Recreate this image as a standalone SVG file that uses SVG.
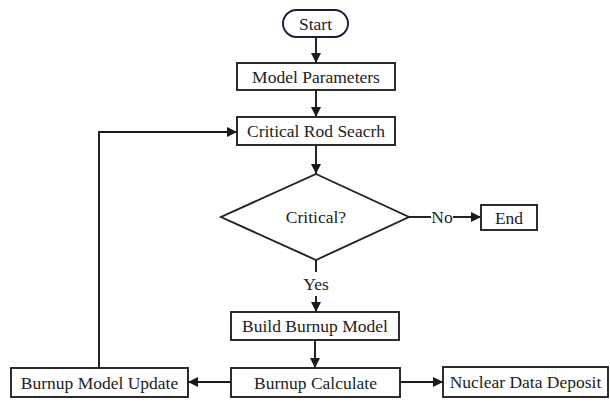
<svg xmlns="http://www.w3.org/2000/svg" width="610" height="402" viewBox="0 0 610 402">
<defs>
<marker id="ah" viewBox="0 0 10 10" refX="10" refY="5" markerWidth="10" markerHeight="10" markerUnits="userSpaceOnUse" orient="auto">
<path d="M0,0 L10,5 L0,10 Z" fill="#1a1a1a"/>
</marker>
<style>
.box{fill:#fff;stroke:#222;stroke-width:1.9}
.t{font-size:17.5px;fill:#222;text-anchor:middle;dominant-baseline:central}
.c{fill:none;stroke:#1a1a1a;stroke-width:1.9}
</style>
</defs>
<rect width="610" height="402" fill="#fff"/>
<g font-family="'Liberation Serif', 'DejaVu Serif', serif">
<g id="connectors">
<line class="c" x1="316" y1="37" x2="316" y2="63" marker-end="url(#ah)"/>
<line class="c" x1="316" y1="90" x2="316" y2="117" marker-end="url(#ah)"/>
<line class="c" x1="316" y1="145" x2="316" y2="174" marker-end="url(#ah)"/>
<line class="c" x1="409" y1="217" x2="431" y2="217"/>
<text class="t" x="442" y="217">No</text>
<line class="c" x1="453" y1="217" x2="481" y2="217" marker-end="url(#ah)"/>
<line class="c" x1="316" y1="260" x2="316" y2="272"/>
<text class="t" x="316" y="284">Yes</text>
<line class="c" x1="316" y1="296" x2="316" y2="312" marker-end="url(#ah)"/>
<line class="c" x1="315" y1="340" x2="315" y2="368" marker-end="url(#ah)"/>
<line class="c" x1="231" y1="382" x2="188" y2="382" marker-end="url(#ah)"/>
<line class="c" x1="400" y1="382" x2="443" y2="382" marker-end="url(#ah)"/>
<polyline class="c" points="99,368 99,132 237,132" marker-end="url(#ah)"/>
</g>
<g id="start">
<rect x="283" y="10" width="65" height="27" rx="13.5" fill="#fff" stroke="#1c1c3c" stroke-width="1.9"/>
<text class="t" x="315.5" y="23.5">Start</text>
</g>
<g id="model-parameters">
<rect class="box" x="237" y="63" width="158" height="27"/>
<text class="t" x="316" y="76.5">Model Parameters</text>
</g>
<g id="critical-rod-search">
<rect class="box" x="237" y="117" width="158" height="28"/>
<text class="t" x="316" y="131">Critical Rod Seacrh</text>
</g>
<g id="critical">
<polygon class="box" points="316,174 409,217 316,260 221,217"/>
<text class="t" x="316" y="217">Critical?</text>
</g>
<g id="end">
<rect class="box" x="481" y="205" width="56" height="25"/>
<text class="t" x="509" y="217.5">End</text>
</g>
<g id="build-burnup-model">
<rect class="box" x="231" y="312" width="168" height="28"/>
<text class="t" x="315" y="326">Build Burnup Model</text>
</g>
<g id="burnup-calculate">
<rect class="box" x="231" y="368" width="169" height="29"/>
<text class="t" x="315.5" y="382.5">Burnup Calculate</text>
</g>
<g id="burnup-model-update">
<rect class="box" x="11" y="368" width="177" height="29"/>
<text class="t" x="99.5" y="382.5">Burnup Model Update</text>
</g>
<g id="nuclear-data-deposit">
<rect class="box" x="443" y="367" width="165" height="30"/>
<text class="t" x="525.5" y="382">Nuclear Data Deposit</text>
</g>
</g>
</svg>
